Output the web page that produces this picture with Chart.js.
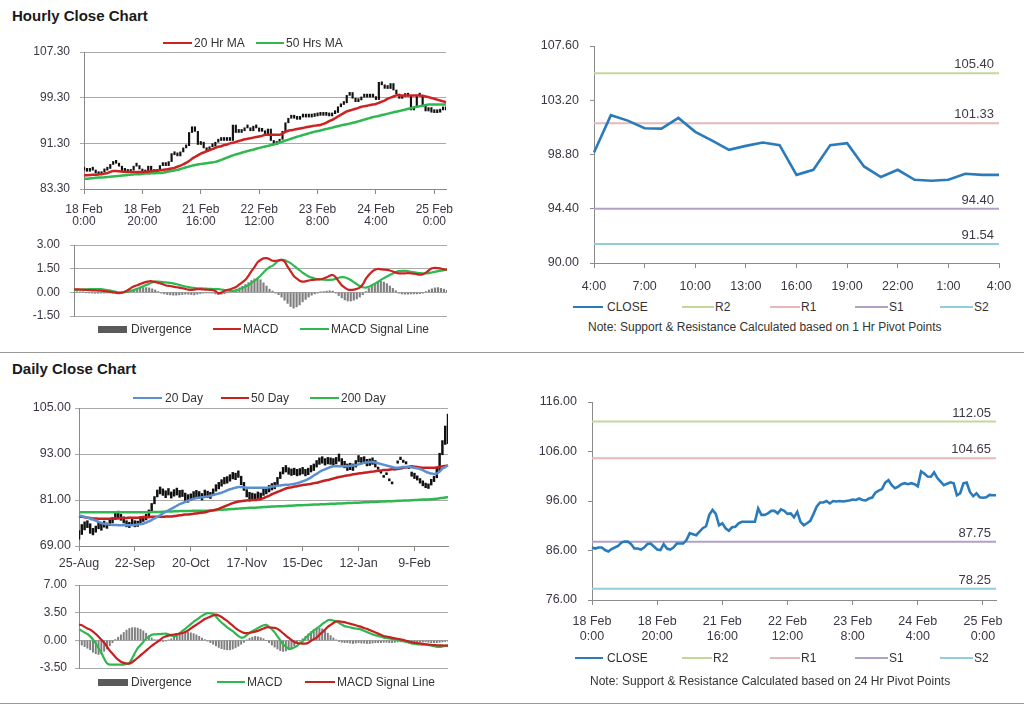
<!DOCTYPE html>
<html><head><meta charset="utf-8">
<script src="https://cdn.jsdelivr.net/npm/chart.js@4.4.1/dist/chart.umd.min.js"></script>
<style>
html,body{margin:0;padding:0;background:#fff;width:1024px;height:706px;overflow:hidden;font-family:'Liberation Sans',Arial,sans-serif;}
canvas{position:absolute;}
.title{position:absolute;font-weight:bold;font-size:15px;color:#1a1a1a;line-height:18px;}
.sep{position:absolute;left:0;width:1024px;height:1px;background:#9a9a9a;}
.lg{position:absolute;font-size:12px;color:#333;white-space:nowrap;line-height:14px;}
.note{position:absolute;font-size:12px;color:#333;white-space:nowrap;line-height:14px;}
.sw{position:absolute;}
</style></head><body>
<div class="title" style="left:12px;top:7px;">Hourly Close Chart</div>
<div class="title" style="left:12px;top:360px;">Daily Close Chart</div>
<div class="sep" style="top:352px;"></div>
<div class="sep" style="top:703px;"></div>
<script>
// ---------------- HOURLY DATA (125 hours, 18 Feb 0:00 .. 25 Feb 4:00) ----------------
const hourlyTickLabels = [['18 Feb','0:00'],['18 Feb','20:00'],['21 Feb','16:00'],['22 Feb','12:00'],['23 Feb','8:00'],['24 Feb','4:00'],['25 Feb','0:00']];
const hourlyClose = [
86.6,86.4,86.6,86.6,86.1,85.8,86.3,86.6,86.9,87.6,
87.8,87.8,87.3,86.4,86.4,86.2,86.6,87.3,87.4,86.8,
86.2,86.1,87.3,86.4,86.2,86.6,87.4,87.4,87.4,88.1,
89.5,89.3,89.1,89.8,90.5,90.9,93.2,94.2,93.4,91.1,
91.5,90.5,90.0,90.7,90.8,91.5,91.8,91.8,91.8,91.8,
91.8,94.5,93.2,93.2,93.5,94.0,94.0,93.5,94.3,94.0,
93.4,93.5,92.7,93.8,91.8,91.1,91.5,92.0,93.4,94.9,
95.7,95.7,96.0,95.5,96.0,95.9,96.0,95.9,96.0,96.1,
96.3,96.2,96.5,96.2,96.1,96.5,96.7,97.7,98.1,98.4,
99.7,100.2,99.2,98.6,98.9,99.4,99.6,99.4,99.6,99.4,
98.96,101.99,101.55,100.93,100.9,101.77,100.64,99.93,99.18,99.5,
99.77,99.56,97.15,97.56,99.56,99.72,97.83,96.97,97.56,96.75,
96.67,96.75,97.24,97.15,97.15];
const hourlyMA20 = [
85.7,85.7,85.75,85.8,85.8,85.85,85.9,86.0,86.1,86.3,
86.45,86.45,86.4,86.35,86.3,86.3,86.3,86.3,86.3,86.3,
86.3,86.3,86.35,86.4,86.5,86.5,86.6,86.65,86.7,86.8,
86.9,87.0,87.2,87.4,87.6,87.9,88.2,88.6,88.9,89.2,
89.5,89.7,89.9,90.1,90.3,90.5,90.7,90.8,91.0,91.1,
91.3,91.4,91.55,91.7,91.85,92.0,92.1,92.2,92.3,92.4,
92.5,92.6,92.8,92.8,92.8,92.8,92.8,92.8,93.0,93.3,
93.5,93.6,93.7,93.8,93.9,94.0,94.1,94.2,94.3,94.4,
94.45,94.5,94.7,94.9,95.2,95.4,95.7,96.0,96.3,96.6,
96.9,97.05,97.2,97.35,97.5,97.7,97.8,97.9,98.0,98.1,
98.2,98.4,98.6,98.8,99.1,99.3,99.5,99.7,99.7,99.7,
99.7,99.7,99.7,99.7,99.7,99.7,99.65,99.5,99.4,99.25,
99.1,98.95,98.8,98.65,98.5];
const hourlyMA50 = [
85.1,85.1,85.15,85.2,85.25,85.3,85.3,85.35,85.4,85.45,
85.5,85.55,85.6,85.65,85.7,85.75,85.8,85.85,85.9,85.9,
85.95,86.0,86.0,86.05,86.05,86.1,86.1,86.15,86.25,86.35,
86.45,86.55,86.65,86.8,86.95,87.1,87.25,87.4,87.5,87.6,
87.7,87.75,87.8,87.9,87.95,88.05,88.2,88.4,88.6,88.8,
89.0,89.2,89.35,89.5,89.65,89.8,89.95,90.1,90.2,90.35,
90.5,90.6,90.75,90.85,91.0,91.1,91.25,91.45,91.6,91.8,
91.95,92.1,92.3,92.45,92.6,92.75,92.9,93.05,93.2,93.35,
93.45,93.55,93.7,93.8,93.95,94.05,94.2,94.3,94.45,94.55,
94.65,94.75,94.9,95.0,95.15,95.3,95.45,95.6,95.75,95.9,
96.0,96.1,96.25,96.35,96.5,96.6,96.75,96.85,96.95,97.1,
97.2,97.35,97.45,97.6,97.7,97.8,97.9,98.0,98.1,98.1,
98.1,98.1,98.1,98.1,98.1];
const hourlyMACD = [
0.2,0.19,0.18,0.17,0.15,0.14,0.13,0.12,0.11,0.1,
0.08,0.06,0.03,0.0,-0.03,-0.05,-0.03,0.05,0.15,0.28,
0.38,0.45,0.52,0.6,0.66,0.7,0.7,0.66,0.6,0.55,
0.48,0.42,0.4,0.36,0.32,0.3,0.26,0.22,0.17,0.15,
0.17,0.2,0.2,0.18,0.17,0.16,0.15,0.08,-0.05,-0.02,
0.08,0.15,0.2,0.27,0.35,0.5,0.65,0.8,1.05,1.35,
1.6,1.9,2.05,2.15,2.17,2.1,2.0,2.0,2.03,2.06,
1.95,1.63,1.35,1.05,0.88,0.74,0.68,0.7,0.75,0.78,
0.8,0.82,0.83,0.88,0.95,1.05,1.1,0.95,0.7,0.45,
0.3,0.18,0.15,0.17,0.22,0.3,0.5,0.85,1.1,1.3,
1.43,1.48,1.46,1.44,1.42,1.38,1.32,1.25,1.2,1.2,
1.2,1.22,1.2,1.18,1.15,1.12,1.15,1.25,1.4,1.52,
1.55,1.53,1.5,1.46,1.44];
const hourlySignal = [
0.15,0.16,0.17,0.18,0.19,0.2,0.2,0.2,0.2,0.2,
0.18,0.15,0.11,0.07,0.03,0.0,0.01,0.03,0.06,0.09,
0.15,0.22,0.3,0.38,0.46,0.55,0.62,0.68,0.68,0.66,
0.64,0.62,0.6,0.57,0.52,0.47,0.42,0.37,0.33,0.3,
0.28,0.26,0.25,0.24,0.23,0.22,0.21,0.2,0.2,0.18,
0.15,0.12,0.1,0.1,0.14,0.2,0.28,0.36,0.45,0.6,
0.72,0.88,1.05,1.25,1.45,1.6,1.68,1.85,2.0,2.06,
2.04,1.95,1.85,1.7,1.55,1.4,1.25,1.12,1.0,0.93,
0.88,0.84,0.82,0.8,0.79,0.79,0.8,0.85,0.92,0.96,
0.95,0.88,0.78,0.65,0.52,0.4,0.32,0.3,0.35,0.45,
0.55,0.66,0.78,0.9,1.0,1.1,1.2,1.28,1.34,1.36,
1.36,1.34,1.3,1.27,1.24,1.22,1.2,1.2,1.22,1.26,
1.3,1.34,1.37,1.4,1.42];
const hourlyDivergence = [
0.05,0.04,0.03,0.02,-0.02,-0.04,-0.05,-0.06,-0.06,-0.05,
-0.05,-0.04,-0.03,-0.04,-0.05,-0.05,-0.02,0.05,0.1,0.15,
0.2,0.25,0.28,0.3,0.3,0.28,0.22,0.15,0.05,-0.05,
-0.1,-0.14,-0.16,-0.18,-0.18,-0.16,-0.14,-0.12,-0.12,-0.14,
-0.16,-0.12,-0.08,-0.05,-0.04,-0.04,-0.05,-0.1,-0.15,-0.12,
-0.08,-0.02,0.05,0.12,0.2,0.28,0.38,0.5,0.62,0.75,
0.85,0.85,0.8,0.6,0.4,0.2,0.08,-0.05,-0.15,-0.3,
-0.5,-0.7,-0.9,-1.0,-0.92,-0.8,-0.6,-0.45,-0.3,-0.18,
-0.1,-0.05,0.02,0.05,0.08,0.1,0.08,-0.05,-0.2,-0.35,
-0.48,-0.55,-0.55,-0.5,-0.42,-0.3,-0.15,0.05,0.25,0.4,
0.55,0.65,0.7,0.65,0.55,0.4,0.25,0.1,-0.05,-0.1,
-0.12,-0.12,-0.1,-0.1,-0.1,-0.08,-0.05,0.05,0.15,0.22,
0.28,0.3,0.25,0.2,0.12];

// last 24 hours (24 Feb 4:00 .. 25 Feb 4:00)
const pivotHourLabels = ['4:00','5:00','6:00','7:00','8:00','9:00','10:00','11:00','12:00','13:00','14:00','15:00','16:00','17:00','18:00','19:00','20:00','21:00','22:00','23:00','0:00','1:00','2:00','3:00','4:00'];
const hourPivotNames = ['R2','R1','S1','S2'];
const hourPivotValues = [105.40, 101.33, 94.40, 91.54];
const hourPivotTicks = [90.00, 94.40, 98.80, 103.20, 107.60];
const dayPivotValues = [112.05, 104.65, 87.75, 78.25];
const dayPivotTicks = [76, 86, 96, 106, 116];

// ---------------- DAILY DATA (133 days, 25 Aug .. 25 Feb) ----------------
const dailyTickLabels = ['25-Aug','22-Sep','20-Oct','17-Nov','15-Dec','12-Jan','9-Feb'];
const dailyLow = [
70.8,72.0,73.2,73.8,72.3,71.9,72.6,73.5,73.1,73.9,
73.6,74.3,75.0,75.9,76.4,75.7,75.0,74.0,73.8,74.5,
74.0,74.1,74.8,75.4,75.8,76.8,78.2,80.0,81.8,82.6,
82.2,81.6,82.3,81.5,82.0,82.3,81.7,81.9,80.9,80.4,
80.9,81.4,81.8,81.5,81.0,81.9,81.6,81.4,82.2,83.3,
83.9,84.6,85.2,85.4,85.9,86.5,86.3,86.9,85.0,83.5,
81.8,81.2,81.0,80.9,81.4,81.1,82.2,82.6,83.1,83.6,
83.9,85.0,86.6,87.8,88.3,87.7,87.4,87.6,87.3,87.5,
87.8,87.3,87.6,88.3,88.7,89.6,90.3,90.6,90.1,90.4,
90.3,90.1,90.4,91.1,89.9,89.4,88.7,88.9,88.7,89.6,
90.9,90.4,90.6,89.9,90.0,90.3,89.6,89.0,88.0,86.9,
87.6,86.0,85.2,88.8,90.6,91.5,90.8,90.4,89.2,87.2,
86.6,86.2,85.4,84.7,84.2,84.0,84.9,85.8,86.8,88.6,
92.8,95.5,95.7];
const dailyHigh = [
73.0,74.6,75.3,75.6,74.8,73.6,74.2,75.4,74.8,75.5,
75.0,75.9,76.4,77.6,78.1,77.3,76.6,75.6,75.2,76.0,
75.6,75.5,76.3,76.8,77.3,78.4,80.1,81.9,83.6,84.4,
83.9,83.4,84.0,83.1,83.7,84.1,83.5,83.6,82.8,82.4,
82.6,83.2,83.5,83.2,82.7,83.6,83.3,83.0,83.9,85.0,
85.6,86.3,86.9,87.1,87.6,88.2,88.0,88.6,87.2,85.6,
83.7,83.0,82.8,82.6,83.1,82.8,83.9,84.3,84.8,85.3,
85.6,86.9,88.3,89.5,90.0,89.4,89.1,89.3,89.0,89.2,
89.5,89.0,89.3,90.0,90.4,91.3,92.0,92.3,91.8,92.1,
92.0,91.8,92.1,93.0,91.8,91.1,90.4,90.6,90.4,91.3,
92.6,92.1,92.3,91.6,91.7,92.0,91.3,89.6,88.5,87.4,
88.1,86.5,85.7,89.4,91.2,92.2,91.4,91.0,89.7,88.3,
88.0,87.3,86.6,86.0,85.4,85.2,86.4,87.2,89.5,93.2,
96.5,100.3,103.4];
const dailyMA20 = [
77.0,76.8,76.6,76.4,76.1,75.9,75.6,75.3,75.0,74.8,
74.7,74.6,74.5,74.5,74.4,74.4,74.4,74.4,74.4,74.4,
74.5,74.6,74.7,74.8,75.1,75.4,75.8,76.2,76.6,77.0,
77.5,77.9,78.3,78.7,79.1,79.5,79.9,80.2,80.5,80.8,
81.1,81.3,81.5,81.6,81.7,81.8,81.9,82.1,82.3,82.5,
82.7,82.9,83.2,83.5,83.8,84.0,84.2,84.4,84.4,84.3,
84.2,84.2,84.2,84.2,84.2,84.2,84.2,84.2,84.3,84.5,
84.6,84.7,84.8,84.9,85.0,85.0,85.1,85.2,85.4,85.6,
85.9,86.1,86.5,86.9,87.4,87.8,88.3,88.7,89.0,89.3,
89.6,89.8,89.8,89.8,89.8,89.8,89.8,89.9,90.0,90.1,
90.3,90.5,90.7,90.8,90.9,90.9,90.8,90.6,90.4,90.2,
90.0,89.8,89.6,89.4,89.4,89.5,89.6,89.6,89.6,89.5,
89.4,89.3,89.1,88.8,88.4,88.1,87.9,87.8,87.9,88.4,
89.2,89.6,90.0];
const dailyMA50 = [
76.7,76.6,76.5,76.4,76.3,76.2,76.2,76.1,76.1,76.1,
76.1,76.1,76.2,76.2,76.2,76.3,76.3,76.3,76.4,76.4,
76.4,76.4,76.5,76.5,76.5,76.5,76.6,76.6,76.6,76.6,
76.6,76.7,76.7,76.7,76.8,76.9,77.0,77.1,77.2,77.2,
77.3,77.4,77.5,77.6,77.7,77.8,78.0,78.2,78.3,78.5,
78.7,79.0,79.3,79.6,79.9,80.2,80.4,80.6,80.7,80.8,
80.9,80.9,81.0,81.0,81.1,81.2,81.5,81.8,82.1,82.5,
82.8,83.1,83.4,83.7,84.0,84.2,84.3,84.5,84.6,84.8,
84.9,85.0,85.1,85.2,85.4,85.5,85.7,85.9,86.1,86.2,
86.4,86.6,86.8,87.0,87.1,87.3,87.4,87.5,87.7,87.8,
87.9,88.0,88.1,88.2,88.3,88.4,88.5,88.6,88.7,88.8,
88.8,88.9,89.0,89.1,89.1,89.2,89.4,89.5,89.7,89.8,
89.7,89.6,89.5,89.4,89.4,89.4,89.4,89.4,89.5,89.6,
89.8,89.9,90.0];
const dailyMA200 = [
77.8,77.8,77.8,77.8,77.8,77.8,77.8,77.8,77.8,77.8,
77.8,77.8,77.8,77.8,77.8,77.8,77.8,77.8,77.8,77.8,
77.8,77.8,77.8,77.8,77.8,77.8,77.85,77.9,77.9,77.9,
77.95,78.0,78.0,78.0,78.05,78.05,78.1,78.1,78.1,78.15,
78.15,78.2,78.2,78.2,78.2,78.2,78.2,78.25,78.3,78.35,
78.4,78.45,78.5,78.55,78.6,78.65,78.7,78.75,78.8,78.85,
78.9,78.95,79.0,79.0,79.05,79.1,79.15,79.2,79.25,79.3,
79.3,79.35,79.4,79.4,79.45,79.5,79.5,79.55,79.6,79.6,
79.65,79.7,79.7,79.75,79.8,79.8,79.85,79.9,79.9,79.95,
80.0,80.0,80.05,80.1,80.1,80.15,80.2,80.2,80.25,80.3,
80.3,80.35,80.4,80.4,80.45,80.5,80.5,80.55,80.6,80.6,
80.65,80.7,80.7,80.75,80.8,80.8,80.85,80.9,80.9,80.95,
81.0,81.0,81.05,81.1,81.1,81.15,81.2,81.25,81.35,81.45,
81.55,81.65,81.75];
const dailyMACD = [
1.4,1.2,1.0,0.8,0.5,0.1,-0.4,-1.0,-1.6,-2.3,
-2.9,-3.07,-3.07,-3.07,-3.07,-3.07,-3.07,-3.0,-2.86,-2.3,
-1.6,-1.0,-0.6,-0.2,0.2,0.45,0.7,0.75,0.78,0.8,
0.82,0.84,0.75,0.6,0.5,0.6,0.9,1.2,1.45,1.75,
2.05,2.35,2.6,2.85,3.1,3.3,3.45,3.42,3.36,3.0,
2.6,2.25,1.95,1.65,1.4,1.15,0.85,0.55,0.35,0.4,
0.65,0.95,1.15,1.35,1.55,1.75,1.9,1.95,1.7,1.4,
1.0,0.5,0.0,-0.5,-0.8,-1.05,-1.05,-0.9,-0.7,-0.35,
-0.15,0.3,0.65,0.95,1.25,1.5,1.75,2.05,2.3,2.55,
2.6,2.5,2.4,2.2,2.0,1.8,1.72,1.65,1.55,1.5,
1.45,1.35,1.2,1.05,0.9,0.75,0.65,0.55,0.45,0.35,
0.3,0.25,0.18,0.1,0.05,0.0,-0.1,-0.2,-0.3,-0.4,
-0.45,-0.5,-0.52,-0.55,-0.55,-0.6,-0.65,-0.75,-0.82,-0.84,
-0.78,-0.7,-0.65];
const dailySignal = [
2.0,1.9,1.7,1.5,1.35,1.1,0.8,0.45,0.08,-0.3,
-0.8,-1.3,-1.7,-2.1,-2.45,-2.7,-2.85,-2.93,-2.94,-2.77,
-2.5,-2.2,-1.9,-1.6,-1.3,-1.0,-0.7,-0.45,-0.2,0.05,
0.35,0.5,0.6,0.68,0.72,0.78,0.85,0.92,1.05,1.25,
1.5,1.75,1.97,2.2,2.45,2.7,2.85,3.0,3.15,3.24,
3.15,2.95,2.7,2.45,2.15,1.85,1.55,1.3,1.1,0.95,
0.92,0.95,1.02,1.1,1.2,1.35,1.5,1.64,1.65,1.6,
1.58,1.45,1.2,0.9,0.6,0.3,0.05,-0.2,-0.34,-0.4,
-0.42,-0.42,-0.3,-0.05,0.15,0.35,0.7,1.0,1.35,1.7,
1.95,2.2,2.39,2.4,2.35,2.3,2.2,2.1,2.0,1.9,
1.8,1.7,1.55,1.45,1.3,1.15,1.0,0.85,0.7,0.55,
0.48,0.4,0.32,0.25,0.2,0.12,0.05,-0.05,-0.15,-0.25,
-0.3,-0.35,-0.4,-0.45,-0.5,-0.55,-0.58,-0.6,-0.62,-0.64,
-0.65,-0.66,-0.67];
const dailyDivergence = [
-0.4,-0.6,-0.8,-1.0,-1.2,-1.5,-1.7,-1.8,-1.7,-1.4,
-1.1,-0.7,-0.3,0.1,0.4,0.7,1.0,1.3,1.5,1.6,
1.6,1.55,1.4,1.2,0.9,0.6,0.3,0.1,0.05,-0.1,
-0.15,-0.1,0.05,0.2,0.4,0.6,0.8,0.9,1.0,1.0,
0.95,0.85,0.7,0.5,0.3,0.1,-0.1,-0.3,-0.5,-0.7,
-0.9,-1.05,-1.15,-1.2,-1.2,-1.1,-0.95,-0.75,-0.5,-0.25,
0.05,0.25,0.4,0.5,0.45,0.35,0.2,0.0,-0.3,-0.6,
-0.85,-1.1,-1.3,-1.4,-1.35,-1.2,-1.0,-0.7,-0.4,-0.1,
0.2,0.5,0.8,1.1,1.35,1.5,1.55,1.45,1.2,0.9,
0.6,0.3,0.05,-0.15,-0.25,-0.3,-0.3,-0.35,-0.4,-0.35,
-0.3,-0.35,-0.35,-0.4,-0.4,-0.35,-0.3,-0.3,-0.3,-0.25,
-0.25,-0.3,-0.3,-0.25,-0.2,-0.2,-0.2,-0.25,-0.25,-0.3,
-0.3,-0.3,-0.25,-0.2,-0.2,-0.25,-0.3,-0.3,-0.3,-0.25,
-0.2,-0.15,-0.1];

// ---------------- STYLE ----------------
const FONT = "'Liberation Sans', Arial, sans-serif";
const TICK = '#3d3545';
const GRID = '#a9a9a9';
const AXIS = '#8a8a8a';
const RED = '#cc2222', GREEN = '#2fb84f', BLUE = '#5b8fcf', GRAY = '#7f7f7f';
const CLOSE_C = '#2b7bbb';
const PIVOT_COLORS = ['#c4d79b', '#e6b9b8', '#b1a0c7', '#92cddc'];
Chart.defaults.font.family = FONT;
Chart.defaults.color = TICK;

function makeCanvas(left, top, w, h) {
  const c = document.createElement('canvas');
  c.width = w; c.height = h;
  c.style.left = left + 'px'; c.style.top = top + 'px';
  c.style.width = w + 'px'; c.style.height = h + 'px';
  document.body.appendChild(c);
  return c.getContext('2d');
}
function legend(items) {
  items.forEach(it => {
    const s = document.createElement('div');
    s.className = 'sw';
    if (it.box) {
      s.style.cssText = `left:${it.x}px;top:${it.y - 3}px;width:${it.w}px;height:7px;background:${it.color};`;
    } else {
      s.style.cssText = `left:${it.x}px;top:${it.y - 1}px;width:${it.w}px;height:2px;background:${it.color};`;
    }
    document.body.appendChild(s);
    const t = document.createElement('div');
    t.className = 'lg';
    t.style.left = it.tx + 'px'; t.style.top = (it.y - 7) + 'px';
    t.textContent = it.text;
    document.body.appendChild(t);
  });
}
function note(x, y, text) {
  const t = document.createElement('div');
  t.className = 'note';
  t.style.left = x + 'px'; t.style.top = (y - 7) + 'px';
  t.textContent = text;
  document.body.appendChild(t);
}
const fixedTicks = arr => (s => { s.ticks = arr.map(v => ({ value: v })); });
const everyN = n => (s => { s.ticks = s.ticks.filter(t => t.value % n === 0); });
// fix the axis size and stop tick labels from adding extra chart padding
const fitY = w => (s => { s.width = w; s.paddingTop = 0; s.paddingBottom = 0; });
const fitX = h => (s => { s.height = h; s.paddingLeft = 0; s.paddingRight = 0; });

const pivotLabelPlugin = {
  id: 'pivotLabels',
  afterDatasetsDraw(chart) {
    const ctx = chart.ctx, ys = chart.scales.y;
    chart.data.datasets.forEach(ds => {
      if (ds.pivotValue === undefined) return;
      const y = ys.getPixelForValue(ds.pivotValue);
      ctx.save();
      ctx.font = '13px ' + FONT;
      ctx.fillStyle = '#3f3848';
      ctx.textAlign = 'right';
      ctx.textBaseline = 'alphabetic';
      ctx.fillText(ds.pivotValue.toFixed(2), chart.chartArea.right - 5, y - 5);
      ctx.restore();
    });
  }
};

const baseOpts = () => ({
  responsive: false, animation: false, devicePixelRatio: 1,
  events: [],
  plugins: { legend: { display: false }, tooltip: { enabled: false } },
});

function lineDS(data, color, width, tension, order) {
  return { type: 'line', data, borderColor: color, backgroundColor: color, borderWidth: width,
    pointRadius: 0, tension, order: order || 0, fill: false };
}

// ---------------- PANEL 1: hourly price ----------------
(function () {
  const idx = hourlyClose.map((_, i) => i);
  const bars = hourlyClose.map((c, i) => [i ? hourlyClose[i - 1] : c, c]);
  const o = baseOpts();
  o.layout = { padding: { top: 12, right: 14, bottom: 0, left: 0 } };
  o.scales = {
    x: { type: 'category', offset: false, afterBuildTicks: everyN(20), afterFit: fitX(51),
      grid: { offset: false, drawOnChartArea: false, tickLength: 5, color: AXIS },
      border: { color: AXIS },
      ticks: { autoSkip: false, maxRotation: 0, padding: 9, font: { size: 12, lineHeight: 1.05 }, color: TICK,
        callback: v => hourlyTickLabels[v / 20] } },
    y: { min: 83.3, max: 107.3, afterBuildTicks: fixedTicks([83.3, 91.3, 99.3, 107.3]), afterFit: fitY(84),
      grid: { color: GRID, tickLength: 4 }, border: { color: AXIS },
      ticks: { padding: 10, font: { size: 12 }, color: TICK, callback: v => v.toFixed(2) } }
  };
  new Chart(makeCanvas(0, 40, 460, 200), {
    type: 'bar',
    data: { labels: idx, datasets: [
      lineDS(hourlyMA20, RED, 2.5, 0.2, 0),
      lineDS(hourlyMA50, GREEN, 2.5, 0.2, 0),
      { type: 'bar', data: bars, backgroundColor: '#111', barThickness: 1.5, minBarLength: 3, order: 1, grouped: false }
    ] },
    options: o
  });
  legend([
    { x: 163, y: 43, w: 29, color: RED, tx: 194, text: '20 Hr MA' },
    { x: 256, y: 43, w: 28, color: GREEN, tx: 286, text: '50 Hrs MA' }
  ]);
})();

// ---------------- PANEL 2: hourly MACD ----------------
(function () {
  const idx = hourlyMACD.map((_, i) => i);
  const o = baseOpts();
  o.layout = { padding: { top: 10, right: 13, bottom: 14, left: 0 } };
  o.scales = {
    x: { type: 'category', offset: false, display: false, grid: { offset: false } },
    y: { min: -1.5, max: 3, afterBuildTicks: fixedTicks([-1.5, 0, 1.5, 3]), afterFit: fitY(74),
      grid: { color: GRID, tickLength: 4 }, border: { color: AXIS },
      ticks: { padding: 10, font: { size: 12 }, color: TICK, callback: v => v.toFixed(2) } }
  };
  new Chart(makeCanvas(0, 235, 460, 95), {
    type: 'bar',
    data: { labels: idx, datasets: [
      lineDS(hourlyMACD, RED, 2.2, 0.3, 0),
      lineDS(hourlySignal, GREEN, 2.2, 0.3, 0),
      { type: 'bar', data: hourlyDivergence, backgroundColor: GRAY, barThickness: 1.5, order: 1, grouped: false }
    ] },
    options: o
  });
  legend([
    { x: 98, y: 329, w: 29, color: '#5a5a5a', box: true, tx: 131, text: 'Divergence' },
    { x: 213, y: 329, w: 28, color: RED, tx: 243, text: 'MACD' },
    { x: 300, y: 329, w: 29, color: GREEN, tx: 331, text: 'MACD  Signal Line' }
  ]);
})();

// ---------------- PIVOT PANEL helper ----------------
function pivotChart(left, top, w, h, pad, yW, xH, closeData, ticksY, pivots, xTickFilter, xCallback, xFont, xPad) {
  const idx = closeData.map((_, i) => i);
  const o = baseOpts();
  o.layout = { padding: pad };
  o.scales = {
    x: { type: 'category', offset: false, afterBuildTicks: xTickFilter, afterFit: fitX(xH),
      grid: { offset: false, drawOnChartArea: false, tickLength: 5, color: AXIS }, border: { color: AXIS },
      ticks: { autoSkip: false, maxRotation: 0, padding: xPad, font: xFont, color: TICK, callback: xCallback } },
    y: { min: ticksY[0], max: ticksY[ticksY.length - 1], afterBuildTicks: fixedTicks(ticksY), afterFit: fitY(yW),
      grid: { drawOnChartArea: false, tickLength: 4, color: AXIS }, border: { color: AXIS },
      ticks: { padding: 11, font: { size: 12.5 }, color: TICK, callback: v => v.toFixed(2) } }
  };
  const ds = [lineDS(closeData, CLOSE_C, 2.6, 0, 0)];
  pivots.forEach((v, k) => {
    const d = lineDS(closeData.map(() => v), PIVOT_COLORS[k], 2, 0, 1);
    d.pivotValue = v;
    ds.push(d);
  });
  new Chart(makeCanvas(left, top, w, h), { type: 'line', data: { labels: idx, datasets: ds }, options: o, plugins: [pivotLabelPlugin] });
}

// ---------------- PANEL 3: hourly pivots (last 24h) ----------------
pivotChart(530, 36, 494, 262, { top: 10, right: 25, bottom: 0, left: 0 }, 64, 35,
  hourlyClose.slice(100), hourPivotTicks, hourPivotValues, everyN(3), v => pivotHourLabels[v], { size: 12.5 }, 11);
legend([
  { x: 573, y: 307, w: 30, color: CLOSE_C, tx: 607, text: 'CLOSE' },
  { x: 682, y: 307, w: 32, color: PIVOT_COLORS[0], tx: 715, text: 'R2' },
  { x: 770, y: 307, w: 30, color: PIVOT_COLORS[1], tx: 801, text: 'R1' },
  { x: 855, y: 307, w: 33, color: PIVOT_COLORS[2], tx: 889, text: 'S1' },
  { x: 940, y: 307, w: 33, color: PIVOT_COLORS[3], tx: 974, text: 'S2' }
]);
note(588, 327, 'Note: Support & Resistance Calculated based on 1 Hr Pivot Points');

// ---------------- PANEL 4: daily price ----------------
(function () {
  const idx = dailyHigh.map((_, i) => i);
  const bars = dailyHigh.map((hi, i) => [dailyLow[i], hi]);
  const o = baseOpts();
  o.layout = { padding: { top: 10, right: 12, bottom: 0, left: 0 } };
  o.scales = {
    x: { type: 'category', offset: false, afterBuildTicks: everyN(20), afterFit: fitX(32),
      grid: { offset: false, drawOnChartArea: false, tickLength: 5, color: AXIS }, border: { color: AXIS },
      ticks: { autoSkip: false, maxRotation: 0, padding: 5, font: { size: 12.5 }, color: TICK,
        callback: v => dailyTickLabels[v / 20] } },
    y: { min: 69, max: 105, afterBuildTicks: fixedTicks([69, 81, 93, 105]), afterFit: fitY(79),
      grid: { color: GRID, tickLength: 4 }, border: { color: AXIS },
      ticks: { padding: 4, font: { size: 12.5 }, color: TICK, callback: v => v.toFixed(2) } }
  };
  new Chart(makeCanvas(0, 398, 460, 180), {
    type: 'bar',
    data: { labels: idx, datasets: [
      lineDS(dailyMA20, BLUE, 2.5, 0.2, 0),
      lineDS(dailyMA50, '#c62020', 2.5, 0.2, 0),
      lineDS(dailyMA200, GREEN, 2.5, 0.2, 0),
      { type: 'bar', data: bars, backgroundColor: '#111', barThickness: 1.8, minBarLength: 2, order: 1, grouped: false }
    ] },
    options: o
  });
  legend([
    { x: 133, y: 398, w: 29, color: BLUE, tx: 165, text: '20 Day' },
    { x: 221, y: 398, w: 28, color: '#c62020', tx: 251, text: '50 Day' },
    { x: 310, y: 398, w: 29, color: GREEN, tx: 341, text: '200 Day' }
  ]);
})();

// ---------------- PANEL 5: daily MACD ----------------
(function () {
  const idx = dailyMACD.map((_, i) => i);
  const o = baseOpts();
  o.layout = { padding: { top: 10, right: 12, bottom: 7, left: 0 } };
  o.scales = {
    x: { type: 'category', offset: false, display: false, grid: { offset: false } },
    y: { min: -3.5, max: 7, afterBuildTicks: fixedTicks([-3.5, 0, 3.5, 7]), afterFit: fitY(79),
      grid: { color: GRID, tickLength: 4 }, border: { color: AXIS },
      ticks: { padding: 8, font: { size: 12 }, color: TICK, callback: v => v.toFixed(2) } }
  };
  new Chart(makeCanvas(0, 575, 460, 100), {
    type: 'bar',
    data: { labels: idx, datasets: [
      lineDS(dailySignal, '#c62020', 2.2, 0.3, 0),
      lineDS(dailyMACD, GREEN, 2.2, 0.3, 0),
      { type: 'bar', data: dailyDivergence, backgroundColor: GRAY, barThickness: 1.3, order: 1, grouped: false }
    ] },
    options: o
  });
  legend([
    { x: 98, y: 682, w: 30, color: '#5a5a5a', box: true, tx: 131, text: 'Divergence' },
    { x: 217, y: 682, w: 28, color: GREEN, tx: 247, text: 'MACD' },
    { x: 305, y: 682, w: 30, color: '#c62020', tx: 337, text: 'MACD  Signal Line' }
  ]);
})();

// ---------------- PANEL 6: hourly close with 24h pivots ----------------
pivotChart(530, 392, 494, 262, { top: 10, right: 28, bottom: 0, left: 0 }, 62, 54,
  hourlyClose, dayPivotTicks, dayPivotValues, everyN(20), v => hourlyTickLabels[v / 20], { size: 12.5, lineHeight: 1.2 }, 9);
legend([
  { x: 575, y: 658, w: 28, color: CLOSE_C, tx: 607, text: 'CLOSE' },
  { x: 682, y: 658, w: 30, color: PIVOT_COLORS[0], tx: 713, text: 'R2' },
  { x: 770, y: 658, w: 30, color: PIVOT_COLORS[1], tx: 801, text: 'R1' },
  { x: 855, y: 658, w: 33, color: PIVOT_COLORS[2], tx: 889, text: 'S1' },
  { x: 940, y: 658, w: 33, color: PIVOT_COLORS[3], tx: 974, text: 'S2' }
]);
note(590, 681, 'Note:  Support & Resistance Calculated based on 24 Hr Pivot Points');
</script>
</body></html>
